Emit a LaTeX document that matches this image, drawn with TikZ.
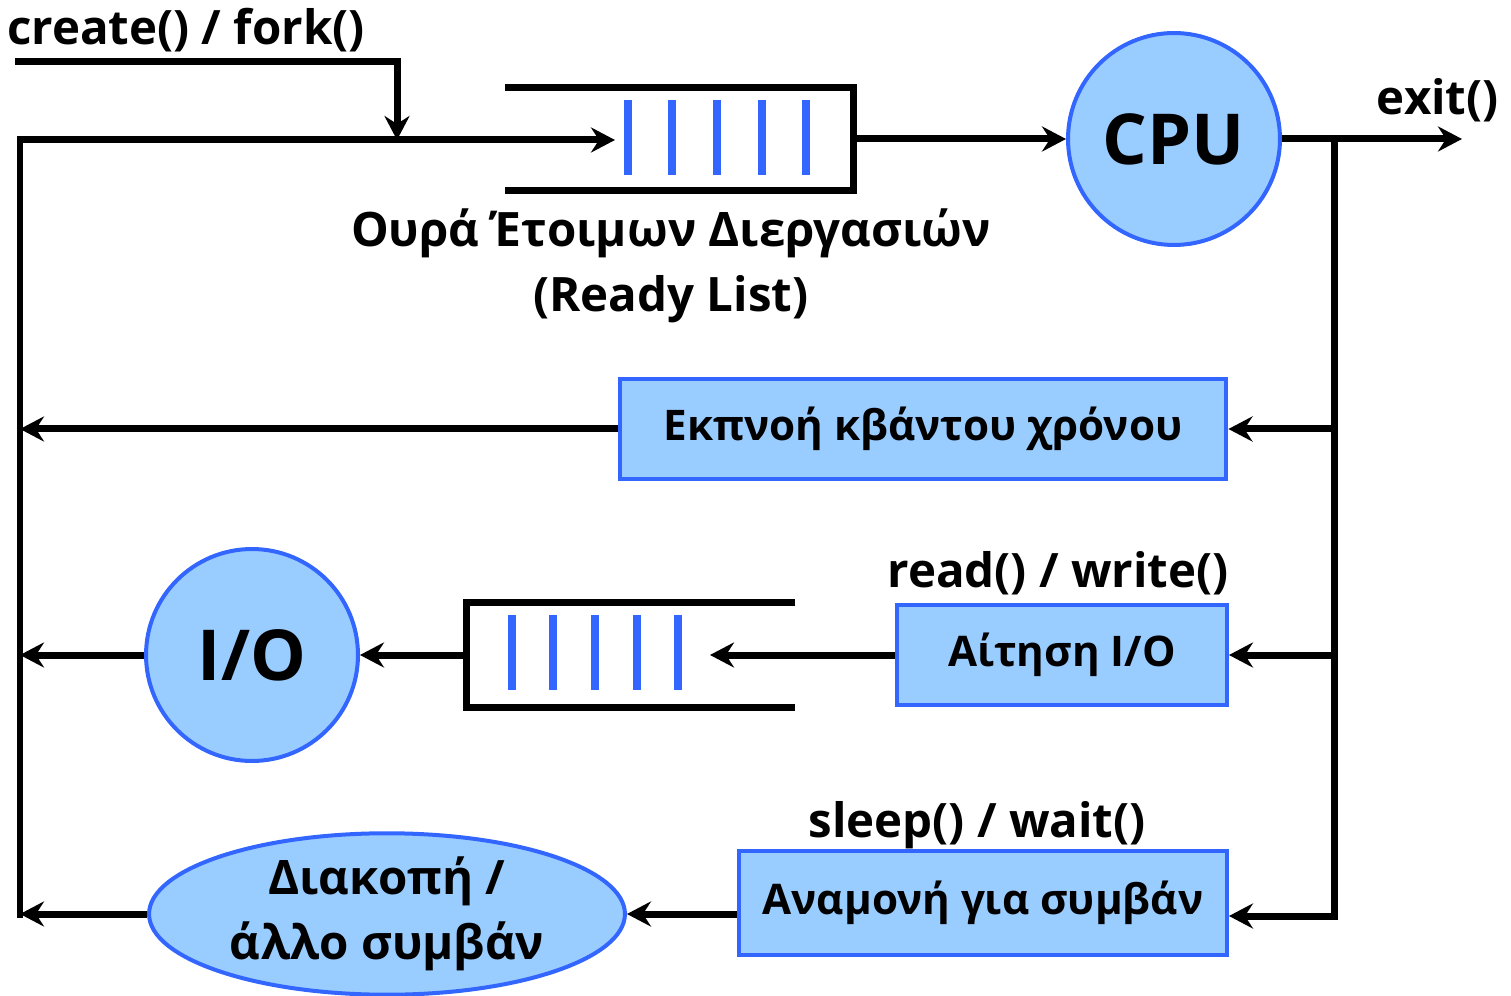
\documentclass[tikz,border=0pt]{standalone}
\usepackage{fontspec}
\setmainfont{Open Sans}
\usetikzlibrary{arrows.meta,positioning,shapes.geometric}
\definecolor{pcfill}{HTML}{99CCFF}
\definecolor{pcblue}{HTML}{3366FF}
\newcommand{\lblsize}{\bfseries\fontsize{27}{37}\selectfont}
\newcommand{\boxsize}{\bfseries\fontsize{24}{30}\selectfont}

\begin{document}
\begin{tikzpicture}[x=0.02cm,y=-0.02cm,
  proc/.style={circle,draw=pcblue,line width=0.08cm,fill=pcfill,minimum size=4.24cm,
    inner sep=0pt,font=\bfseries\fontsize{40}{44}\selectfont},
  evt/.style={ellipse,draw=pcblue,line width=0.08cm,fill=pcfill,minimum width=9.52cm,
    minimum height=3.12cm,inner sep=0pt,align=center,font=\lblsize},
  box/.style={rectangle,draw=pcblue,line width=0.08cm,fill=pcfill,minimum height=2.02cm,
    inner sep=0pt,font=\boxsize},
  queue/.style={inner sep=0pt},
  lbl/.style={inner sep=0pt,align=center,font=\lblsize},
  wire/.style={line width=0.14cm},
  bar/.style={line width=0.16cm,pcblue},
  arr/.style={-{Stealth[length=0.48cm,width=0.5cm,inset=0.16cm]},line width=0.14cm}]
  \useasboundingbox (0,0) rectangle (1511,996);
  % queues
  \node[queue,minimum width=6.96cm,minimum height=2.04cm] (rq) at (679,139) {};
  \node[queue,minimum width=6.56cm,minimum height=2.08cm] (ioq) at (631,655) {};
  \draw[wire] (rq.north west) -- (rq.north east) -- (rq.south east) -- (rq.south west);
  \draw[wire] (ioq.north east) -- (ioq.north west) -- (ioq.south west) -- (ioq.south east);
  \foreach \bx in {628,672,717,762,806}
    \draw[bar] (\bx,100) -- (\bx,175);
  \foreach \bx in {512,553,595,637,678}
    \draw[bar] (\bx,615) -- (\bx,690);
  % processing stages
  \node[proc] (cpu) at (1174,139) {CPU};
  \node[proc] (io) at (252,655) {I/O};
  \node[evt] (intr) at (387,914) {Διακοπή /\\άλλο συμβάν};
  \node[box,minimum width=12.14cm] (quant) at (923,429) {Εκπνοή κβάντου χρόνου};
  \node[box,minimum width=6.6cm] (ioreq) at (1062,655) {Αίτηση I/O};
  \node[box,minimum width=9.76cm,minimum height=2.08cm] (waitev) at (983,903) {Αναμονή για συμβάν};
  % labels
  \node[lbl] (forkl) at (186,30) {create() / fork()};
  \node[lbl,anchor=east] (exitl) at (1499,100) {exit()};
  \node[lbl] (rql) at (671,266) {Ουρά Έτοιμων Διεργασιών\\(Ready List)};
  \node[lbl] (rwl) at (1058,573) {read() / write()};
  \node[lbl] (swl) at (977,825) {sleep() / wait()};
  % bus points
  \coordinate (newp) at (15,62);
  \coordinate (fork) at (397,140);
  \coordinate (rqin) at (615,140);
  \coordinate (ioqin) at (710,655);
  \coordinate (exitp) at (1462,139);
  \coordinate (bus) at (1334,139);
  \coordinate (busend) at (1334,916);
  \coordinate (back) at (20,140);
  \coordinate (backend) at (20,918);
  % connectors
  \draw[arr] (backend) -- (back) -- (rqin);
  \draw[arr] (newp) -| (fork);
  \draw[arr] (rq.east) -- (cpu.west);
  \draw[arr] (cpu.east) -- (exitp);
  \draw[arr] (bus) -- (busend) -- (waitev.east |- busend);
  \draw[arr] (bus |- quant) -- (quant.east);
  \draw[arr] (bus |- ioreq) -- (ioreq.east);
  \draw[arr] (quant.west) -- (back |- quant);
  \draw[arr] (ioreq.west) -- (ioqin);
  \draw[arr] (ioq.west) -- (io.east);
  \draw[arr] (io.west) -- (back |- io);
  \draw[arr] (waitev.west |- intr) -- (intr.east);
  \draw[arr] (intr.west) -- (back |- intr);
\end{tikzpicture}
\end{document}
